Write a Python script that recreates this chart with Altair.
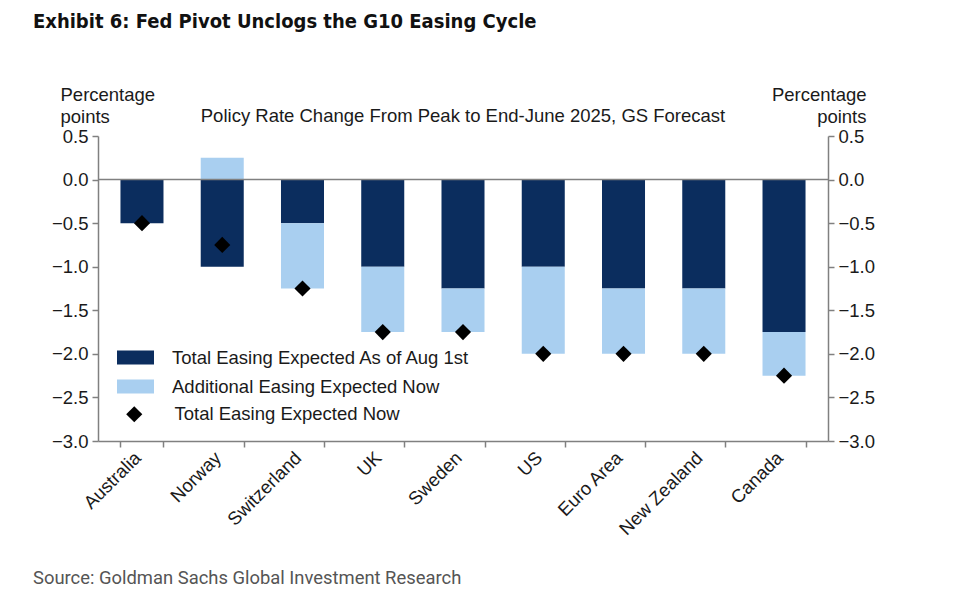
import altair as alt
import pandas as pd

countries = ["Australia", "Norway", "Switzerland", "UK", "Sweden", "US",
             "Euro Area", "New Zealand", "Canada"]
eased_aug1 = [-0.5, -1.0, -0.5, -1.0, -1.25, -1.0, -1.25, -1.25, -1.75]
additional_now = [0.0, 0.25, -0.75, -0.75, -0.5, -1.0, -0.75, -0.75, -0.5]
total_now = [-0.5, -0.75, -1.25, -1.75, -1.75, -2.0, -2.0, -2.0, -2.25]
series_names = ["Total Easing Expected As of Aug 1st",
                "Additional Easing Expected Now",
                "Total Easing Expected Now"]
y_ticks = [0.5, 0.0, -0.5, -1.0, -1.5, -2.0, -2.5, -3.0]
title_text = "Exhibit 6: Fed Pivot Unclogs the G10 Easing Cycle"
subtitle_text = "Policy Rate Change From Peak to End-June 2025, GS Forecast"
source_text = "Source: Goldman Sachs Global Investment Research"
axis_title = ["Percentage", "points"]

DARK = "#0b2d5e"
LIGHT = "#a9cff0"
AXIS_GRAY = "#808080"
FONT = "Liberation Sans"
FS = 18.5
TITLE_FONT = "Liberation Sans Narrow, DejaVu Sans Condensed, Roboto"

bar_rows = []
for c, a, b in zip(countries, eased_aug1, additional_now):
    bar_rows.append({"country": c, "series": series_names[0], "value": a, "order": 0})
    bar_rows.append({"country": c, "series": series_names[1], "value": b, "order": 1})
bar_df = pd.DataFrame(bar_rows)
pt_df = pd.DataFrame({"country": countries, "now": total_now,
                      "label": [series_names[2]] * len(countries)})

yscale = alt.Scale(domain=[-3.0, 0.5], nice=False, zero=False)
xscale = alt.Scale(paddingInner=0.464, paddingOuter=0.28)

x_axis = alt.Axis(title=None, labelAngle=-45, labelFontSize=FS, labelFont=FONT,
                  labelColor="#1a1a1a", tickBand="extent", tickSize=6,
                  tickColor=AXIS_GRAY, domainColor=AXIS_GRAY, domainWidth=1.5,
                  tickWidth=1.5, labelPadding=1, labelOffset=-11, grid=False)

def y_axis(orient):
    right = orient == "right"
    return alt.Axis(orient=orient, values=y_ticks, format=".1f", grid=False,
                    labelFontSize=FS, labelFont=FONT, labelColor="#1a1a1a",
                    tickSize=6, tickColor=AXIS_GRAY, tickWidth=1.5,
                    domainColor=AXIS_GRAY, domainWidth=1.5, labelPadding=4,
                    title=axis_title, titleAngle=0, titleFont=FONT,
                    titleFontSize=FS, titleFontWeight="normal", titleColor="#1a1a1a",
                    titleAlign="right" if right else "left",
                    titleBaseline="alphabetic", titleLineHeight=22,
                    titleX=38 if right else -38, titleY=-36)

left_axis = y_axis("left")

bars = alt.Chart(bar_df).mark_bar().encode(
    x=alt.X("country:N", sort=countries, scale=xscale, axis=x_axis),
    y=alt.Y("value:Q", stack="zero", scale=yscale, axis=left_axis),
    color=alt.Color("series:N",
                    scale=alt.Scale(domain=series_names[:2], range=[DARK, LIGHT]),
                    legend=alt.Legend(orient="none", legendX=19, legendY=203,
                                      title=None, padding=0,
                                      symbolType="M-1,-0.38H1V0.38H-1Z",
                                      symbolSize=1369, symbolStrokeWidth=0,
                                      labelFontSize=FS, labelFont=FONT,
                                      labelColor="#1a1a1a", labelOffset=18,
                                      rowPadding=1, labelLimit=450)),
    order=alt.Order("order:Q"),
)

zero_rule = alt.Chart(pd.DataFrame({"value": [0.0]})).mark_rule(
    color=AXIS_GRAY, strokeWidth=1.5).encode(
    y=alt.Y("value:Q", scale=yscale, axis=left_axis))

points = alt.Chart(pt_df).mark_point(filled=True, color="black", opacity=1, size=260).encode(
    x=alt.X("country:N", sort=countries, scale=xscale, axis=x_axis),
    y=alt.Y("now:Q", scale=yscale, axis=left_axis),
    shape=alt.Shape("label:N", scale=alt.Scale(domain=[series_names[2]], range=["diamond"]),
                    legend=alt.Legend(orient="none", legendX=27, legendY=269,
                                      title=None, padding=0, symbolSize=260,
                                      symbolFillColor="black", symbolStrokeColor="black",
                                      labelFontSize=FS, labelFont=FONT,
                                      labelColor="#1a1a1a", labelOffset=31,
                                      labelLimit=450)),
)

title_layer = alt.Chart(pd.DataFrame({"t": [title_text]})).mark_text(
    align="left", baseline="middle", font=TITLE_FONT, fontSize=20,
    fontWeight="bold", color="#111111").encode(
    x=alt.value(-65), y=alt.value(-114), text="t:N")

subtitle_layer = alt.Chart(pd.DataFrame({"t": [subtitle_text]})).mark_text(
    align="center", baseline="middle", font=FONT, fontSize=FS,
    color="#1a1a1a").encode(
    x=alt.value(365), y=alt.value(-20), text="t:N")

source_layer = alt.Chart(pd.DataFrame({"t": [source_text]})).mark_text(
    align="left", baseline="middle", font="Roboto", fontSize=18.4,
    color="#555555").encode(
    x=alt.value(-65), y=alt.value(442), text="t:N")

right_axis = alt.Chart(pt_df).mark_point(opacity=0).encode(
    x=alt.X("country:N", sort=countries, scale=xscale, axis=x_axis),
    y=alt.Y("now:Q", scale=yscale, axis=y_axis("right")),
)

inner = alt.layer(bars, zero_rule, points, title_layer, subtitle_layer, source_layer)

chart = alt.layer(inner, right_axis).resolve_scale(y="independent").properties(
    width=730, height=305,
    padding={"left": 98, "top": 136, "right": 132, "bottom": 158},
    autosize=alt.AutoSizeParams(type="none"),
    background="white",
).configure_view(stroke=None)

chart.save("out.html", embed_options={"renderer": "svg", "actions": False})
